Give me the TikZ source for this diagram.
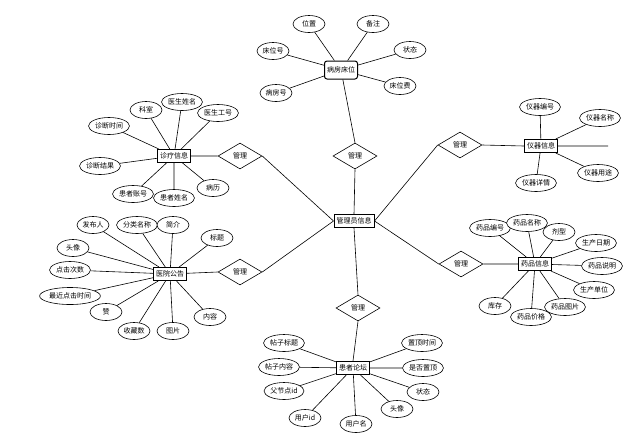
\documentclass[tikz,border=0pt]{standalone}
\usepackage{fontspec}
\newfontfamily\cjk{Noto Sans CJK SC}
\usepackage{tikz}
\usetikzlibrary{shapes.geometric}

\begin{document}
\begin{tikzpicture}[x=1pt,y=-1pt,line width=0.6pt,
  every node/.style={font=\cjk\fontsize{7}{8}\selectfont},
  attr/.style={draw,fill=white,ellipse,inner sep=0.5pt,minimum width=32pt,minimum height=17pt},
  ent/.style={draw,fill=white,line width=1pt,inner sep=2.5pt,minimum height=13pt},
  rel/.style={draw,fill=white,diamond,inner sep=0pt,minimum width=44pt,minimum height=26pt}]
\useasboundingbox (0,0) rectangle (634,440);
% centre
\node[ent] (admin) at (354,221) {管理员信息};
\node[rel] (rel1) at (240,156) {管理};
\node[rel] (rel2) at (240,272) {管理};
\node[rel] (rel3) at (355,156) {管理};
\node[rel] (rel4) at (460,145) {管理};
\node[rel] (rel5) at (461,264) {管理};
\node[rel] (rel6) at (358,308) {管理};
% 病房床位
\node[ent,rounded corners=2.5pt,minimum height=18pt] (ward) at (341,70) {病房床位};
\node[attr] (ward1) at (309,24) {位置};
\node[attr] (ward2) at (373,24) {备注};
\node[attr] (ward3) at (410,50) {状态};
\node[attr] (ward4) at (400,86) {床位费};
\node[attr] (ward5) at (276,93) {病房号};
\node[attr] (ward6) at (273,51) {床位号};
% 诊疗信息
\node[ent] (diag) at (174,156) {诊疗信息};
\node[attr] (diag1) at (146,110) {科室};
\node[attr] (diag2) at (182,102) {医生姓名};
\node[attr] (diag3) at (218,113) {医生工号};
\node[attr] (diag4) at (109,126) {诊断时间};
\node[attr] (diag5) at (100,166) {诊断结果};
\node[attr] (diag6) at (133,194) {患者账号};
\node[attr] (diag7) at (174,198) {患者姓名};
\node[attr] (diag8) at (213,188) {病历};
% 医院公告
\node[ent] (notice) at (170,274) {医院公告};
\node[attr] (notice1) at (93,225) {发布人};
\node[attr] (notice2) at (137,225) {分类名称};
\node[attr] (notice3) at (173,225) {简介};
\node[attr] (notice4) at (217,238) {标题};
\node[attr] (notice5) at (73,248) {头像};
\node[attr] (notice6) at (70,270) {点击次数};
\node[attr] (notice7) at (70,296) {最近点击时间};
\node[attr] (notice8) at (106,312) {赞};
\node[attr] (notice9) at (134,331) {收藏数};
\node[attr] (notice10) at (173,331) {图片};
\node[attr] (notice11) at (210,317) {内容};
% 患者论坛
\node[ent] (forum) at (353,368) {患者论坛};
\node[attr] (forum1) at (284,343) {帖子标题};
\node[attr] (forum2) at (279,367) {帖子内容};
\node[attr] (forum3) at (284,391) {父节点id};
\node[attr] (forum4) at (305,418) {用户id};
\node[attr] (forum5) at (356,424) {用户名};
\node[attr] (forum6) at (397,409) {头像};
\node[attr] (forum7) at (423,392) {状态};
\node[attr] (forum8) at (423,368) {是否置顶};
\node[attr] (forum9) at (422,343) {置顶时间};
% 仪器信息
\node[ent] (instr) at (541,146) {仪器信息};
\node[attr] (instr1) at (540,107) {仪器编号};
\node[attr] (instr2) at (600,118) {仪器名称};
\node[attr] (instr3) at (598,173) {仪器用途};
\node[attr] (instr4) at (536,183) {仪器详情};
\coordinate (instr0) at (608,146);
% 药品信息
\node[ent] (drug) at (535,264) {药品信息};
\node[attr] (drug1) at (490,228) {药品编号};
\node[attr] (drug2) at (527,223) {药品名称};
\node[attr] (drug3) at (559,232) {剂型};
\node[attr] (drug4) at (596,243) {生产日期};
\node[attr] (drug5) at (602,266) {药品说明};
\node[attr] (drug6) at (594,290) {生产单位};
\node[attr] (drug7) at (565,307) {药品图片};
\node[attr] (drug8) at (531,317) {药品价格};
\node[attr] (drug9) at (495,306) {库存};
% links
\draw (diag) -- (rel1.west) (rel1.east) -- (admin.west);
\draw (notice) -- (rel2.west) (rel2.east) -- (admin.west);
\draw (ward) -- (rel3.north) (rel3.south) -- (admin.north);
\draw (admin.east) -- (rel4.west) (rel4.east) -- (instr.west);
\draw (admin.east) -- (rel5.west) (rel5.east) -- (drug.west);
\draw (admin.south) -- (rel6.north) (rel6.south) -- (forum.north);
\draw (ward) -- (ward1) (ward) -- (ward2) (ward) -- (ward3)
      (ward) -- (ward4) (ward) -- (ward5) (ward) -- (ward6);
\draw (diag) -- (diag1) (diag) -- (diag2) (diag) -- (diag3) (diag) -- (diag4)
      (diag) -- (diag5) (diag) -- (diag6) (diag) -- (diag7) (diag) -- (diag8);
\draw (notice) -- (notice1) (notice) -- (notice2) (notice) -- (notice3)
      (notice) -- (notice4) (notice) -- (notice5) (notice) -- (notice6)
      (notice) -- (notice7) (notice) -- (notice8) (notice) -- (notice9)
      (notice) -- (notice10) (notice) -- (notice11);
\draw (forum) -- (forum1) (forum) -- (forum2) (forum) -- (forum3)
      (forum) -- (forum4) (forum) -- (forum5) (forum) -- (forum6)
      (forum) -- (forum7) (forum) -- (forum8) (forum) -- (forum9);
\draw (instr) -- (instr1) (instr) -- (instr2) (instr) -- (instr3)
      (instr) -- (instr4) (instr) -- (instr0);
\draw (drug) -- (drug1) (drug) -- (drug2) (drug) -- (drug3)
      (drug) -- (drug4) (drug) -- (drug5) (drug) -- (drug6)
      (drug) -- (drug7) (drug) -- (drug8) (drug) -- (drug9);
\end{tikzpicture}
\end{document}
